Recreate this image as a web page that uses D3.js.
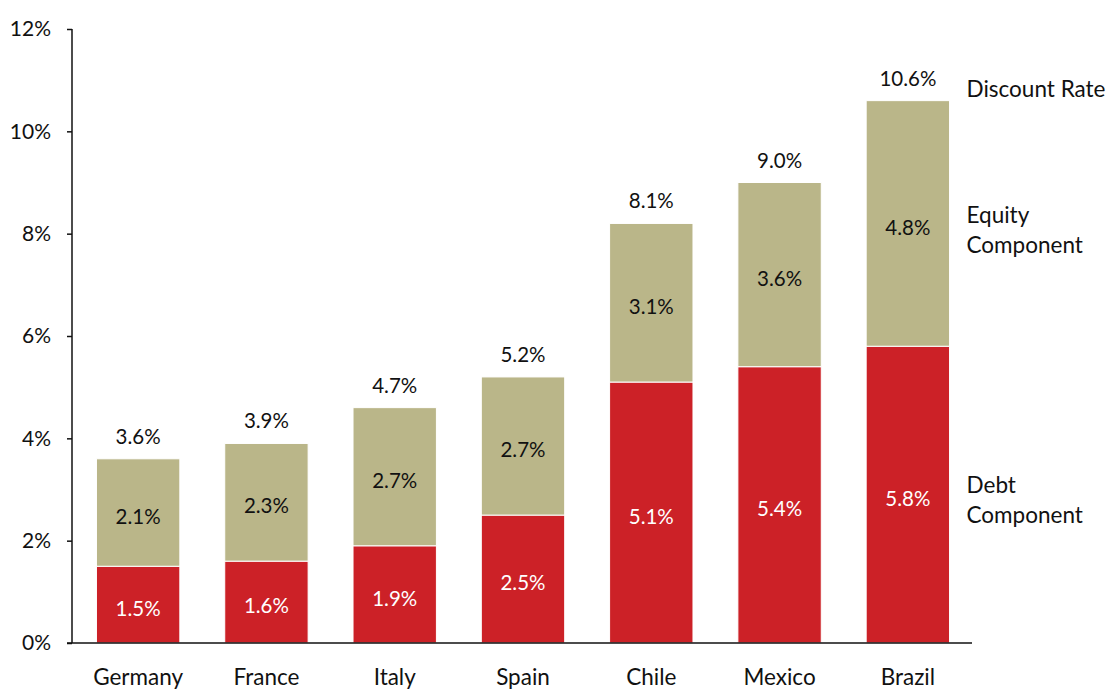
<!DOCTYPE html>
<html>
<head>
<meta charset="utf-8">
<script src="https://cdn.jsdelivr.net/npm/d3@7"></script>
<style>
  html, body { margin: 0; padding: 0; background: #fff; }
  svg { display: block; font-family: "Lato", "Open Sans", sans-serif; }
</style>
</head>
<body>
<svg id="chart" width="1114" height="689"></svg>
<script>
// Discount rate split into debt and equity components, by country
const countries = ["Germany", "France", "Italy", "Spain", "Chile", "Mexico", "Brazil"];
const debtComponent = [1.5, 1.6, 1.9, 2.5, 5.1, 5.4, 5.8];
const equityComponent = [2.1, 2.3, 2.7, 2.7, 3.1, 3.6, 4.8];
const discountRate = [3.6, 3.9, 4.7, 5.2, 8.1, 9.0, 10.6];
const yTicks = [0, 2, 4, 6, 8, 10, 12];
const seriesNames = ["Debt\nComponent", "Equity\nComponent", "Discount Rate"];

const colors = { debt: "#cc2127", equity: "#bab689", ink: "#111" };
const fontFamily = "Lato, 'Open Sans', sans-serif";

const svg = d3.select("#chart");

const x = d3.scaleBand()
  .domain(countries)
  .range([74, 972])
  .paddingInner(0.35)
  .paddingOuter(0.175);

const y = d3.scaleLinear().domain([0, 12]).range([643, 29]);

const rows = countries.map((c, i) => ({
  country: c,
  debt: debtComponent[i],
  equity: equityComponent[i],
  total: discountRate[i]
}));

const stack = d3.stack().keys(["debt", "equity"]);
const layers = stack(rows);

// Stacked bars
svg.append("g").selectAll("g")
  .data(layers)
  .join("g")
  .attr("fill", d => colors[d.key])
  .selectAll("rect")
  .data(d => d)
  .join("rect")
  .attr("x", d => x(d.data.country))
  .attr("width", x.bandwidth())
  .attr("y", d => y(d[1]))
  .attr("height", d => y(d[0]) - y(d[1]))
  .attr("stroke", "#fff")
  .attr("stroke-width", 1);

// Segment value labels
const fmt = v => v.toFixed(1) + "%";
svg.append("g").selectAll("g")
  .data(layers)
  .join("g")
  .attr("fill", d => d.key === "debt" ? "#fff" : colors.ink)
  .selectAll("text")
  .data(d => d)
  .join("text")
  .attr("x", d => x(d.data.country) + x.bandwidth() / 2)
  .attr("y", d => (y(d[0]) + y(d[1])) / 2 + 4)
  .attr("dy", "0.35em")
  .attr("text-anchor", "middle")
  .attr("font-size", 20.5)
  .text(d => fmt(d[1] - d[0]));

// Total labels above bars
svg.append("g").selectAll("text")
  .data(rows)
  .join("text")
  .attr("x", d => x(d.country) + x.bandwidth() / 2)
  .attr("y", d => y(d.debt + d.equity) - 15)
  .attr("text-anchor", "middle")
  .attr("font-size", 20.5)
  .attr("fill", colors.ink)
  .text(d => fmt(d.total));

// Y axis
const yAxis = d3.axisLeft(y)
  .tickValues(yTicks)
  .tickFormat(d => d + "%")
  .tickSize(5)
  .tickPadding(16);

const gy = svg.append("g")
  .attr("transform", "translate(72,0)")
  .call(yAxis)
  .attr("font-family", fontFamily)
  .attr("font-size", 21);
gy.select(".domain").remove();
gy.selectAll(".tick line").attr("stroke", colors.ink).attr("stroke-width", 1.5);
gy.selectAll(".tick text").attr("fill", colors.ink);
gy.append("line")
  .attr("x1", 0).attr("x2", 0)
  .attr("y1", y(12)).attr("y2", y(0))
  .attr("stroke", colors.ink).attr("stroke-width", 1.5);

// X axis
const xAxis = d3.axisBottom(x).tickSize(0).tickPadding(26);
const gx = svg.append("g")
  .attr("transform", `translate(0,${y(0)})`)
  .call(xAxis)
  .attr("font-family", fontFamily)
  .attr("font-size", 22.5);
gx.select(".domain").remove();
gx.selectAll(".tick text").attr("fill", colors.ink);
gx.append("line")
  .attr("x1", 67).attr("x2", 972)
  .attr("y1", 0).attr("y2", 0)
  .attr("stroke", colors.ink).attr("stroke-width", 1.5);

// Series annotations beside the last bar
const last = rows[rows.length - 1];
const annX = x(last.country) + x.bandwidth() + 17;
const annY = [
  (y(0) + y(last.debt)) / 2 - 2,
  (y(last.debt) + y(last.debt + last.equity)) / 2,
  y(last.debt + last.equity) - 4
];
const ann = svg.append("g").attr("font-size", 22.5).attr("fill", colors.ink);
seriesNames.forEach((name, i) => {
  const t = ann.append("text").attr("x", annX).attr("y", annY[i]);
  name.split("\n").forEach((line, j) => {
    t.append("tspan").attr("x", annX).attr("dy", j === 0 ? 0 : 30).text(line);
  });
});
</script>
</body>
</html>
